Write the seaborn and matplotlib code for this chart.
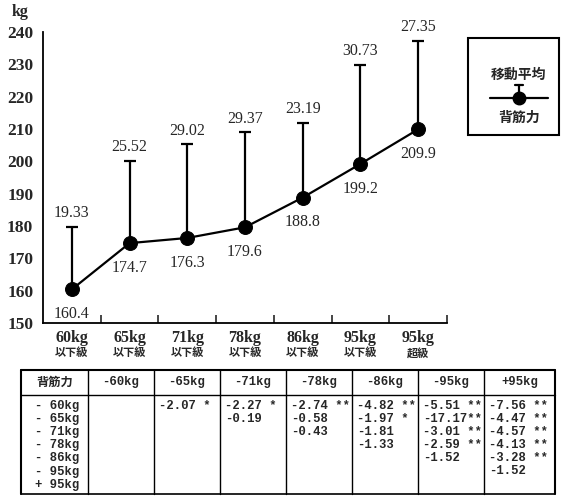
import numpy as np
import pandas as pd
import matplotlib
matplotlib.use("Agg")
import matplotlib.pyplot as plt
import seaborn as sns
from matplotlib.lines import Line2D
from matplotlib.patches import Rectangle

# weight classes and back strength (mean, SD)
classes = ["60kg", "65kg", "71kg", "78kg", "86kg", "95kg", "95kg"]
class_suffix = ["以下級", "以下級", "以下級", "以下級", "以下級", "以下級", "超級"]
means = [160.4, 174.7, 176.3, 179.6, 188.8, 199.2, 209.9]
sds = [19.33, 25.52, 29.02, 29.37, 23.19, 30.73, 27.35]

# t-test table
table_header = ["背筋力", "-60kg", "-65kg", "-71kg", "-78kg", "-86kg", "-95kg", "+95kg"]
row_labels = ["- 60kg", "- 65kg", "- 71kg", "- 78kg", "- 86kg", "- 95kg", "+ 95kg"]
t_60 = []
t_65 = ["-2.07 *"]
t_71 = ["-2.27 *", "-0.19"]
t_78 = ["-2.74 **", "-0.58", "-0.43"]
t_86 = ["-4.82 **", "-1.97 *", "-1.81", "-1.33"]
t_95 = ["-5.51 **", "-17.17**", "-3.01 **", "-2.59 **", "-1.52"]
t_95p = ["-7.56 **", "-4.47 **", "-4.57 **", "-4.13 **", "-3.28 **", "-1.52"]
t_columns = [t_60, t_65, t_71, t_78, t_86, t_95, t_95p]

sns.set_style("white")
SERIF = ["Liberation Serif", "Noto Sans CJK JP"]
MONO = ["Liberation Mono", "Noto Sans CJK JP"]
CJK = ["Noto Sans CJK JP", "DejaVu Sans"]
plt.rcParams["font.family"] = SERIF

W, H = 561, 497
fig = plt.figure(figsize=(W / 100, H / 100), dpi=100)
fig.patch.set_facecolor("white")

ax = fig.add_axes([43 / W, 1 - 323 / H, (447 - 43) / W, (323 - 32) / H])
df = pd.DataFrame({"pos": range(len(means)), "mean": means, "sd": sds})

ax.errorbar(df["pos"], df["mean"], yerr=[np.zeros(len(df)), df["sd"]], fmt="none",
            ecolor="black", elinewidth=1.6, capsize=4, capthick=1.6, zorder=2)
sns.lineplot(data=df, x="pos", y="mean", color="black", lw=1.6, marker="o",
             markersize=10, markeredgecolor="black", ax=ax, zorder=3)

for i, (m, s) in enumerate(zip(means, sds)):
    ax.annotate(f"{s:.2f}", (i, m + s), xytext=(0, 4), textcoords="offset points",
                ha="center", va="bottom", fontsize=11.5)
    ax.annotate(f"{m:.1f}", (i, m), xytext=(0, -12), textcoords="offset points",
                ha="center", va="top", fontsize=11.5)

ax.set_xlim(-0.5, len(means) - 0.5)
ax.set_ylim(150, 240)
ax.set_yticks(range(150, 241, 10))
ax.set_xticks(range(len(means)))
ax.set_xticklabels([])
ax.set_xticks(np.arange(0.5, len(means), 1), minor=True)
ax.tick_params(axis="x", which="major", length=0)
ax.tick_params(axis="x", which="minor", direction="in", length=6, width=1.2, bottom=True)
ax.tick_params(axis="y", length=0, pad=7, labelsize=12.5)
for lab in ax.get_yticklabels():
    lab.set_fontweight("bold")
ax.set_xlabel("")
ax.set_ylabel("")
for side in ["top", "right"]:
    ax.spines[side].set_visible(False)
for side in ["left", "bottom"]:
    ax.spines[side].set_color("black")
    ax.spines[side].set_linewidth(1.3)

for i, (c, suf) in enumerate(zip(classes, class_suffix)):
    ax.annotate(c, (i, 0), xycoords=("data", "axes fraction"), xytext=(0, -10.5),
                textcoords="offset points", ha="center", va="center",
                fontsize=11.5, fontweight="bold")
    ax.annotate(suf, (i, 0), xycoords=("data", "axes fraction"), xytext=(0, -21.5),
                textcoords="offset points", ha="center", va="center",
                fontsize=8, fontweight="bold", family=CJK)

fig.text(20 / W, 1 - 12 / H, "kg", ha="center", va="center", fontsize=11.5, fontweight="bold")

# legend box
fig.add_artist(Rectangle((468 / W, 1 - 135 / H), (559 - 468) / W, (135 - 38) / H,
                         transform=fig.transFigure, fill=False, lw=1.5, ec="black"))
fig.text(519 / W, 1 - 75 / H, "移動平均", ha="center", va="center", fontsize=10,
         fontweight="bold", family=CJK)
fig.text(519 / W, 1 - 118 / H, "背筋力", ha="center", va="center", fontsize=10,
         fontweight="bold", family=CJK)
ly = 1 - 98 / H
fig.add_artist(Line2D([490 / W, 548 / W], [ly, ly], transform=fig.transFigure, color="black", lw=1.6))
fig.add_artist(Line2D([519 / W, 519 / W], [ly, 1 - 85 / H], transform=fig.transFigure, color="black", lw=1.6))
fig.add_artist(Line2D([515 / W, 523 / W], [1 - 85 / H] * 2, transform=fig.transFigure, color="black", lw=1.6))
fig.add_artist(Line2D([519 / W], [ly], transform=fig.transFigure, marker="o", ms=9, color="black"))

# table
tab = fig.add_axes([0, 0, 1, 1])
tab.set_xlim(0, W)
tab.set_ylim(H, 0)
tab.axis("off")
col_edges = [21, 88, 154, 220, 286, 352, 418, 484, 555]
top, head_bot, bottom = 370, 395, 494
tab.plot([col_edges[0], col_edges[-1]], [top, top], color="black", lw=1.5)
tab.plot([col_edges[0], col_edges[-1]], [bottom, bottom], color="black", lw=1.2)
tab.plot([col_edges[0], col_edges[-1]], [head_bot, head_bot], color="black", lw=1.0)
for j, x in enumerate(col_edges):
    tab.plot([x, x], [top, bottom], color="black", lw=1.5 if j in (0, len(col_edges) - 1) else 1.0)
for j, h in enumerate(table_header):
    cx = (col_edges[j] + col_edges[j + 1]) / 2
    fam = CJK if j == 0 else MONO
    tab.text(cx, (top + head_bot) / 2, h, ha="center", va="center", fontsize=8.8,
             fontweight="bold", family=fam)
line_h = 13.1
y0 = 406
for k, r in enumerate(row_labels):
    tab.text(col_edges[0] + 14, y0 + k * line_h, r, ha="left", va="center",
             fontsize=8.8, fontweight="bold", family=MONO)
for j, vals in enumerate(t_columns):
    for k, v in enumerate(vals):
        tab.text(col_edges[j + 1] + 5, y0 + k * line_h, v, ha="left", va="center",
                 fontsize=8.8, fontweight="bold", family=MONO)

fig.savefig("out.png", dpi=100, facecolor="white")
